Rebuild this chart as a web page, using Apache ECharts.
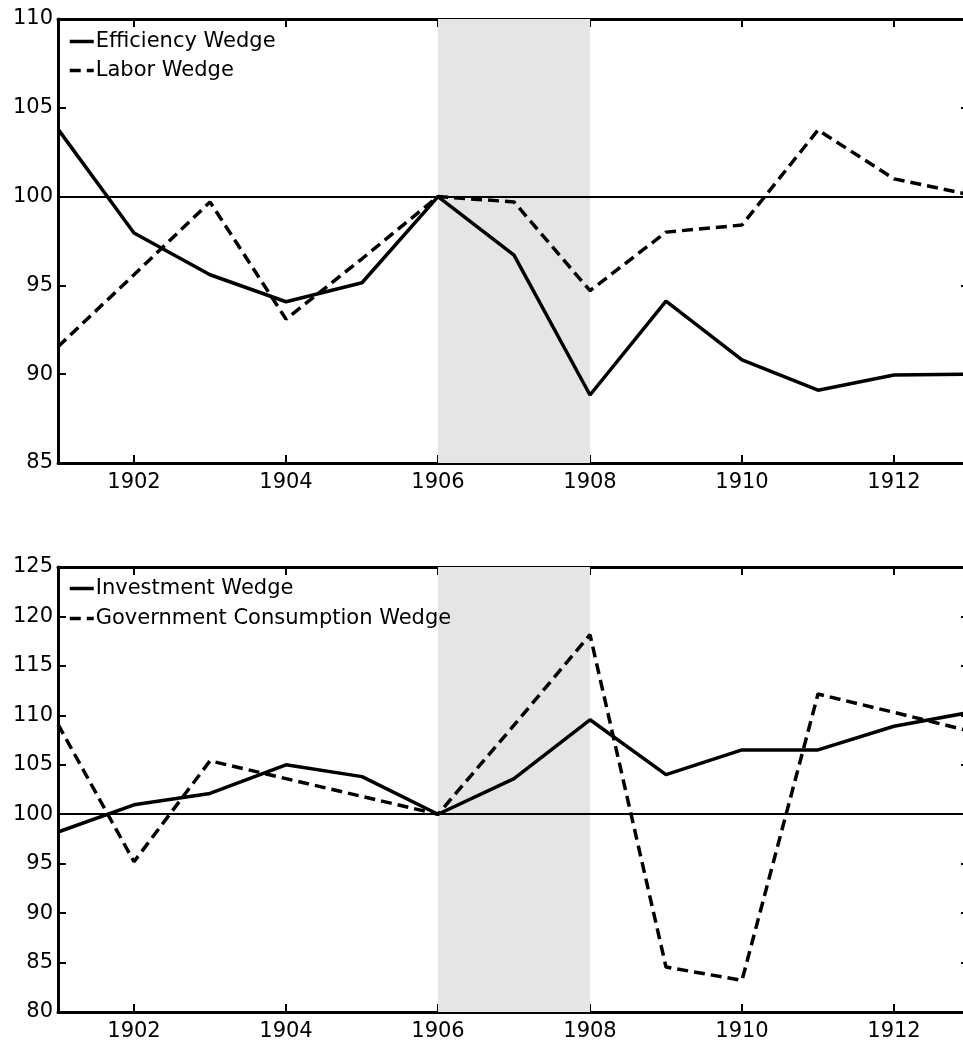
<!DOCTYPE html>
<html>
<head>
<meta charset="utf-8">
<script src="https://cdn.jsdelivr.net/npm/echarts@6/dist/echarts.min.js"></script>
<style>
html,body{margin:0;padding:0;background:#fff;}
#chart{width:963px;height:1043px;}
</style>
</head>
<body>
<div id="chart"></div>
<script>
const years = [1901,1902,1903,1904,1905,1906,1907,1908,1909,1910,1911,1912,1913];
const efficiencyWedge = [103.8,97.95,95.6,94.08,95.15,100,96.7,88.83,94.12,90.8,89.1,89.95,90.0];
const laborWedge = [91.55,95.6,99.7,93.1,96.5,100,99.7,94.7,98.0,98.4,103.75,101.0,100.1];
const investmentWedge = [98.2,100.95,102.1,105.0,103.8,100,103.6,109.55,104.0,106.5,106.5,108.9,110.3];
const governmentWedge = [109.1,95.2,105.4,103.6,101.8,100,109.0,118.15,84.55,83.2,112.15,110.3,108.4];
const recession = [1906,1908];
const topYTicks = {min:85,max:110,interval:5};
const botYTicks = {min:80,max:125,interval:5};

const FONT = 'DejaVu Sans, Arial, sans-serif';
const FS = 21;
const pairs = v => years.map((y,i)=>[y,v[i]]);

function xAxes(gi){
  return [
    {type:'value',gridIndex:gi,min:1901,max:1913,splitNumber:6,position:'bottom',
     axisLine:{lineStyle:{color:'#000',width:3}},
     axisTick:{inside:true,length:8,lineStyle:{color:'#000',width:2}},
     axisLabel:{color:'#000',fontFamily:FONT,fontSize:FS,margin:9,showMinLabel:false,showMaxLabel:false,
       formatter:v=>String(v)},
     splitLine:{show:false}},
    {type:'value',gridIndex:gi,min:1901,max:1913,splitNumber:6,position:'top',
     axisLine:{lineStyle:{color:'#000',width:3}},
     axisTick:{inside:true,length:8,lineStyle:{color:'#000',width:2}},
     axisLabel:{show:false},splitLine:{show:false}}
  ];
}
function yAxes(gi,t){
  return [
    {type:'value',gridIndex:gi,min:t.min,max:t.max,interval:t.interval,position:'left',
     axisLine:{lineStyle:{color:'#000',width:3}},
     axisTick:{inside:true,length:8,lineStyle:{color:'#000',width:2}},
     axisLabel:{color:'#000',fontFamily:FONT,fontSize:FS,margin:5},
     splitLine:{show:false}},
    {type:'value',gridIndex:gi,min:t.min,max:t.max,interval:t.interval,position:'right',
     axisLine:{lineStyle:{color:'#000',width:3}},
     axisTick:{inside:true,length:9,lineStyle:{color:'#000',width:2}},
     axisLabel:{show:false},splitLine:{show:false}}
  ];
}
const solid = {color:'#000',width:3.5,type:'solid'};
const dashed = {color:'#000',width:3.5,type:[11,6]};

function refSeries(xi,yi){
  return {type:'line',xAxisIndex:xi,yAxisIndex:yi,data:[],silent:true,
    markArea:{silent:true,itemStyle:{color:'#e5e5e5'},data:[[{xAxis:recession[0]},{xAxis:recession[1]}]]},
    markLine:{silent:true,symbol:'none',label:{show:false},lineStyle:{color:'#000',width:2,type:'solid'},data:[{yAxis:100}]}
  };
}
const legendCommon = {orient:'vertical',left:63,itemWidth:24,itemHeight:10,
  itemStyle:{opacity:0},
  lineStyle:{width:3.5},
  textStyle:{color:'#000',fontFamily:FONT,fontSize:FS,padding:[0,0,0,-3]}};

const chart = echarts.init(document.getElementById('chart'),null,{renderer:'canvas'});
chart.setOption({
  backgroundColor:'#fff',
  animation:false,
  grid:[
    {left:58,top:19,width:912,height:444,outerBoundsMode:'none',containLabel:false},
    {left:58,top:567,width:912,height:445,outerBoundsMode:'none',containLabel:false}
  ],
  xAxis:[...xAxes(0),...xAxes(1)],
  yAxis:[...yAxes(0,topYTicks),...yAxes(1,botYTicks)],
  legend:[
    Object.assign({},legendCommon,{data:['Efficiency Wedge','Labor Wedge'],top:26,itemGap:8}),
    Object.assign({},legendCommon,{data:['Investment Wedge','Government Consumption Wedge'],top:573,itemGap:9})
  ],
  series:[
    refSeries(0,0),
    refSeries(2,2),
    {name:'Efficiency Wedge',type:'line',xAxisIndex:0,yAxisIndex:0,data:pairs(efficiencyWedge),symbol:'none',lineStyle:solid,itemStyle:{color:'#000'},z:3},
    {name:'Labor Wedge',type:'line',xAxisIndex:0,yAxisIndex:0,data:pairs(laborWedge),symbol:'none',lineStyle:dashed,itemStyle:{color:'#000'},z:3},
    {name:'Investment Wedge',type:'line',xAxisIndex:2,yAxisIndex:2,data:pairs(investmentWedge),symbol:'none',lineStyle:solid,itemStyle:{color:'#000'},z:3},
    {name:'Government Consumption Wedge',type:'line',xAxisIndex:2,yAxisIndex:2,data:pairs(governmentWedge),symbol:'none',lineStyle:dashed,itemStyle:{color:'#000'},z:3}
  ]
});
</script>
</body>
</html>
